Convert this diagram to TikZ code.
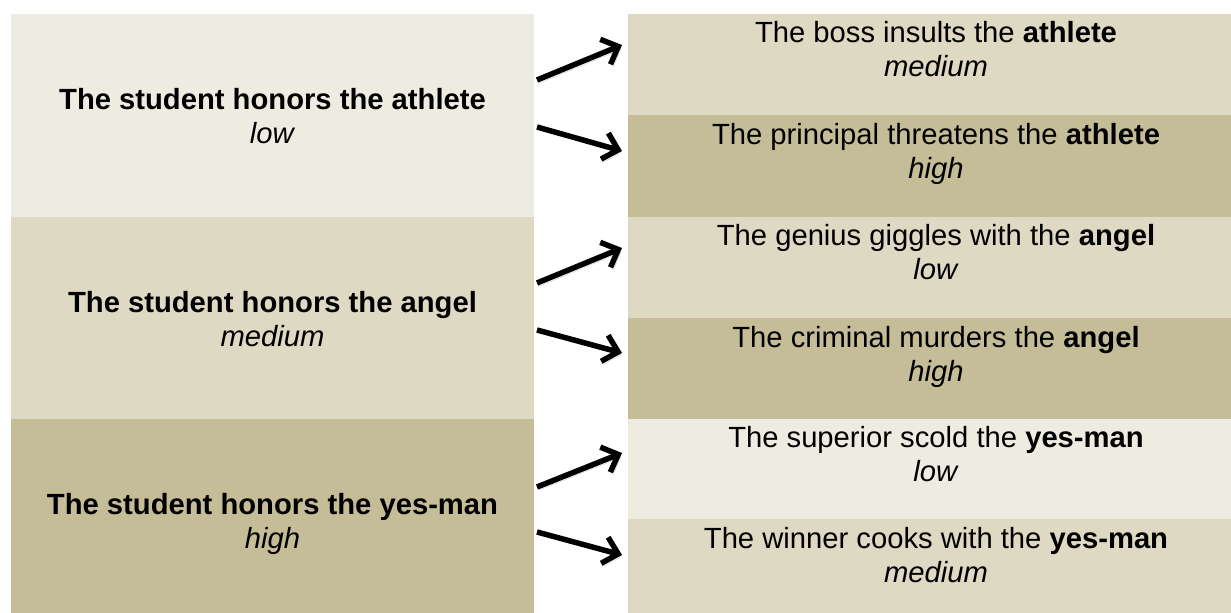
\documentclass[tikz,border=0pt]{standalone}
\usepackage{fontspec}
\setmainfont{Liberation Sans}
\usetikzlibrary{arrows.meta}

\definecolor{tanlight}{HTML}{EEECE1}
\definecolor{tanmid}{HTML}{DDD9C3}
\definecolor{tandark}{HTML}{C4BD97}

\begin{document}
\begin{tikzpicture}[x=1bp, y=-1bp]

\tikzset{lbox/.style = {shape=rectangle, inner sep=0, outer sep=0, minimum width=523bp, anchor=north west}}
\tikzset{rbox/.style = {shape=rectangle, inner sep=0, outer sep=0, minimum width=603bp, anchor=north west}}
\tikzset{txt/.style = {anchor=north, align=center, inner sep=0, font=\fontsize{29.2bp}{34.5bp}\selectfont}}
\tikzset{arr/.style = {-{Straight Barb[length=14bp,width=27bp]}, line width=5.5bp,
  preaction={draw=black!70, opacity=.3, transform canvas={xshift=2.5bp,yshift=-3bp}}}}

\useasboundingbox (0,0) rectangle (1231,613);

% sentences
\node[lbox, fill=tanlight, minimum height=203bp] (l1) at (11,14)  {};
\node[lbox, fill=tanmid,   minimum height=202bp] (l2) at (11,217) {};
\node[lbox, fill=tandark,  minimum height=194bp] (l3) at (11,419) {};
% followers
\node[rbox, fill=tanmid,   minimum height=101bp] (r1) at (628,14)  {};
\node[rbox, fill=tandark,  minimum height=102bp] (r2) at (628,115) {};
\node[rbox, fill=tanmid,   minimum height=101bp] (r3) at (628,217) {};
\node[rbox, fill=tandark,  minimum height=101bp] (r4) at (628,318) {};
\node[rbox, fill=tanlight, minimum height=100bp] (r5) at (628,419) {};
\node[rbox, fill=tanmid,   minimum height=94bp]  (r6) at (628,519) {};

% labels
\node[txt] (lt1) at ([yshift=-74bp]l1.north) {\textbf{The student honors the athlete}\\\textit{low}};
\node[txt] (lt2) at ([yshift=-74bp]l2.north) {\textbf{The student honors the angel}\\\textit{medium}};
\node[txt] (lt3) at ([yshift=-74bp]l3.north) {\textbf{The student honors the yes-man}\\\textit{high}};
\node[txt] (rt1) at ([xshift=6.5bp,yshift=-7bp]r1.north) {The boss insults the \textbf{athlete}\\\textit{medium}};
\node[txt] (rt2) at ([xshift=6.5bp,yshift=-8bp]r2.north) {The principal threatens the \textbf{athlete}\\\textit{high}};
\node[txt] (rt3) at ([xshift=6.5bp,yshift=-7bp]r3.north) {The genius giggles with the \textbf{angel}\\\textit{low}};
\node[txt] (rt4) at ([xshift=6.5bp,yshift=-8bp]r4.north) {The criminal murders the \textbf{angel}\\\textit{high}};
\node[txt] (rt5) at ([xshift=6.5bp,yshift=-7bp]r5.north) {The superior scold the \textbf{yes-man}\\\textit{low}};
\node[txt] (rt6) at ([xshift=6.5bp,yshift=-8bp]r6.north) {The winner cooks with the \textbf{yes-man}\\\textit{medium}};

% arrows
\draw[arr] ([shift={(3bp,-66bp)}]l1.north east)  -- ([shift={(-6bp,-31bp)}]r1.north west);
\draw[arr] ([shift={(3bp,-113bp)}]l1.north east) -- ([shift={(-6bp,-36bp)}]r2.north west);
\draw[arr] ([shift={(3bp,-66bp)}]l2.north east)  -- ([shift={(-6bp,-31bp)}]r3.north west);
\draw[arr] ([shift={(3bp,-113bp)}]l2.north east) -- ([shift={(-6bp,-35bp)}]r4.north west);
\draw[arr] ([shift={(3bp,-68bp)}]l3.north east)  -- ([shift={(-6bp,-34bp)}]r5.north west);
\draw[arr] ([shift={(3bp,-113bp)}]l3.north east) -- ([shift={(-6bp,-36bp)}]r6.north west);
\end{tikzpicture}
\end{document}
